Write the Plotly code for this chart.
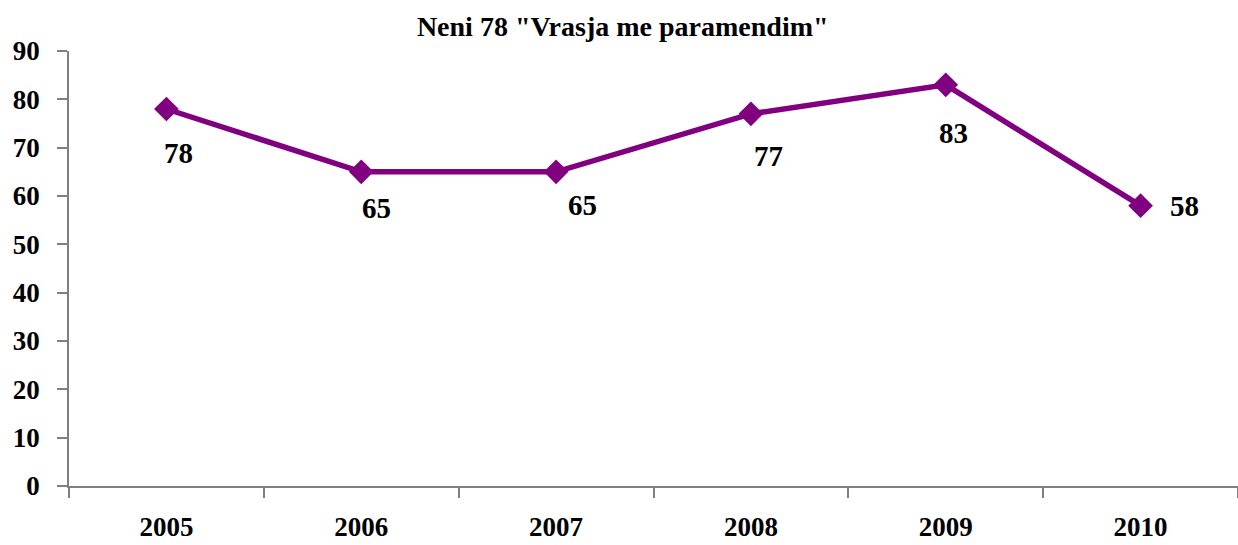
import plotly.graph_objects as go

# ---- data ----
years = ["2005", "2006", "2007", "2008", "2009", "2010"]
values = [78, 65, 65, 77, 83, 58]
y_ticks = [0, 10, 20, 30, 40, 50, 60, 70, 80, 90]
title_text = 'Neni 78 "Vrasja me paramendim"'

# ---- styling ----
label_dx = [12, 15, 26, 18, 8, 44]
label_dy = [44, 36, 33, 42, 48, 0]
FONT = "Liberation Serif"
PURPLE = "#800080"
AXIS = "#808080"

fig = go.Figure()
fig.add_trace(go.Scatter(
    x=years, y=values, mode="lines+markers",
    line=dict(color=PURPLE, width=5.5),
    marker=dict(symbol="diamond", size=19, color=PURPLE),
    showlegend=False, cliponaxis=False, hoverinfo="x+y",
))

for i, (v, dx, dy) in enumerate(zip(values, label_dx, label_dy)):
    fig.add_annotation(
        x=i, y=v, xref="x", yref="y", text=str(v), showarrow=False,
        xanchor="center", yanchor="middle",
        xshift=dx, yshift=-dy,
        font=dict(family=FONT, size=29, color="black", weight=700),
    )

fig.update_layout(
    width=1238, height=545,
    margin=dict(l=69, r=0, t=51, b=59),
    paper_bgcolor="white", plot_bgcolor="white",
    title=dict(text=title_text, x=0.503, xanchor="center", y=0.952, yanchor="middle",
               font=dict(family=FONT, size=28, color="black", weight=700)),
    xaxis=dict(
        type="category", range=[-0.5, 5.5], automargin=False,
        showline=True, linecolor=AXIS, linewidth=1.5,
        ticks="outside", tickson="boundaries", ticklen=10, tickcolor=AXIS, tickwidth=1.5,
        showgrid=False, zeroline=False,
        tickfont=dict(family=FONT, size=27, color="black", weight=700),
        ticklabelstandoff=16,
    ),
    yaxis=dict(
        range=[0, 90], tickvals=y_ticks, automargin=False,
        showline=True, linecolor=AXIS, linewidth=1.5,
        ticks="outside", ticklen=10, tickcolor=AXIS, tickwidth=1.5,
        showgrid=False, zeroline=False,
        tickfont=dict(family=FONT, size=27, color="black", weight=700),
        ticklabelstandoff=12,
    ),
)

fig.write_html(
    "out.html",
    config={"displayModeBar": False},
    post_script="document.body.style.margin='0';document.body.style.overflow='hidden';",
)
